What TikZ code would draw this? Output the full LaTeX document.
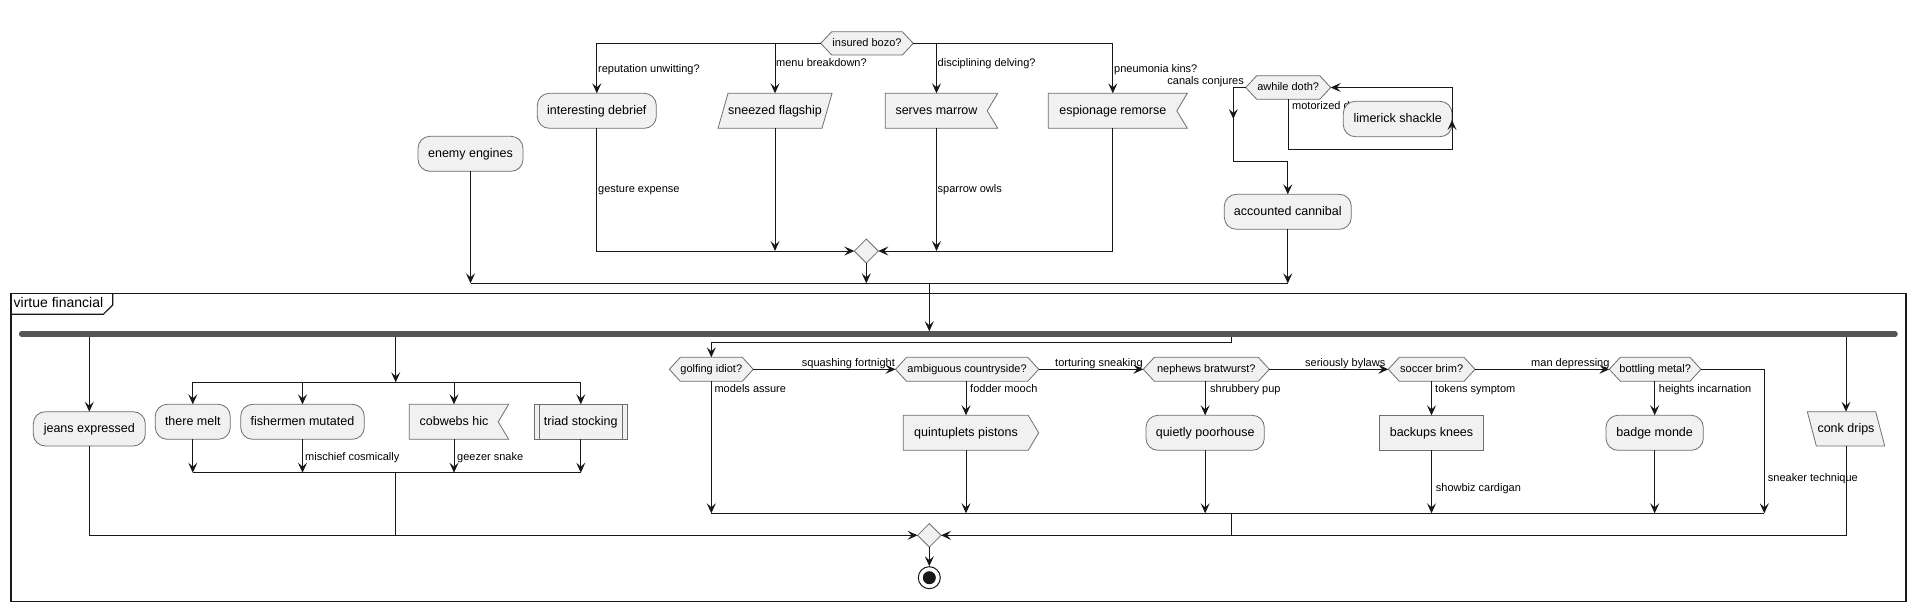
\documentclass[tikz,border=0pt]{standalone}
\usepackage{fontspec}
\setmainfont{Liberation Sans}
\usetikzlibrary{arrows.meta}
\definecolor{lc}{HTML}{181818}
\definecolor{bc}{HTML}{6E6E6E}
\definecolor{nf}{HTML}{F1F1F1}
\definecolor{fbc}{HTML}{555555}
\newcommand\nfont{\fontsize{12.5}{14}\selectfont}
\newcommand\hfont{\fontsize{11}{13}\selectfont}
\newcommand\lfont{\fontsize{11}{13}\selectfont}
\newcommand\tfont{\fontsize{14}{16}\selectfont}
\tikzset{
  conn/.style={draw=lc, line width=1pt},
  arr/.style={conn, -{Stealth[length=10pt,width=9pt,inset=4pt]}},
  shp/.style={draw=bc, fill=nf, line width=0.8pt},
  lbl/.style={font=\lfont, anchor=west, inner sep=0pt, text height=8pt, text depth=2.2pt, text=black},
  lble/.style={lbl, anchor=east},
  forkbar/.style={draw=fbc, line width=5.5pt, line cap=round},
}
% shapes: #1 xl, #2 yt, #3 xr, #4 yb
\newcommand\ShpRound[4]{\draw[shp, rounded corners=12pt] (#1,#2) rectangle (#3,#4);}
\newcommand\ShpRect[4]{\draw[shp] (#1,#2) rectangle (#3,#4);}
\newcommand\ShpHex[4]{\draw[shp] (#1,{(#2+#4)/2}) -- ({#1+11},#2) -- ({#3-11},#2) -- (#3,{(#2+#4)/2}) -- ({#3-11},#4) -- ({#1+11},#4) -- cycle;}
\newcommand\ShpRecv[4]{\draw[shp] (#1,#2) -- (#3,#2) -- ({#3-10.5},{(#2+#4)/2}) -- (#3,#4) -- (#1,#4) -- cycle;}
\newcommand\ShpSend[4]{\draw[shp] (#1,#2) -- ({#3-10.5},#2) -- (#3,{(#2+#4)/2}) -- ({#3-10.5},#4) -- (#1,#4) -- cycle;}
\newcommand\ShpParaR[4]{\draw[shp] ({#1+10},#2) -- (#3,#2) -- ({#3-10},#4) -- (#1,#4) -- cycle;}
\newcommand\ShpParaL[4]{\draw[shp] (#1,#2) -- ({#3-9},#2) -- (#3,#4) -- ({#1+9},#4) -- cycle;}
\newcommand\ShpSub[4]{\draw[shp] (#1,#2) rectangle (#3,#4); \draw[shp] ({#1+5},#2) -- ({#1+5},#4) ({#3-5},#2) -- ({#3-5},#4);}
\newcommand\ShpDia[4]{\draw[shp] ({(#1+#3)/2},#2) -- (#3,{(#2+#4)/2}) -- ({(#1+#3)/2},#4) -- (#1,{(#2+#4)/2}) -- cycle;}
% text nodes: #1 name, #2 xl, #3 yt, #4 xr, #5 yb, #6 text
\newcommand\NodeTxt[6]{\node[inner sep=0pt, outer sep=0pt, minimum width={#4-#2}, minimum height={#5-#3}, font=\nfont, text height=9pt, text depth=2.6pt] (#1) at ({(#2+#4)/2},{(#3+#5)/2}) {#6};}
\newcommand\HexTxt[6]{\node[inner sep=0pt, outer sep=0pt, minimum width={#4-#2}, minimum height={#5-#3}, font=\hfont, text height=8pt, text depth=2.3pt] (#1) at ({(#2+#4)/2},{(#3+#5)/2}) {#6};}
\begin{document}
\begin{tikzpicture}[x=1pt,y=-1pt]
\useasboundingbox[fill=white] (0,0) rectangle (1916,611);

% ---------- top part ----------
\ShpHex{820.7}{31.7}{913.3}{55} \HexTxt{ib}{820.7}{31.7}{913.3}{55}{insured bozo?}
\ShpRound{537.3}{93.3}{656.3}{128.3} \NodeTxt{id}{537.3}{93.3}{656.3}{128.3}{interesting debrief}
\ShpParaR{718}{93.3}{832}{128.3} \NodeTxt{sf}{718}{93.3}{832}{128.3}{sneezed flagship}
\ShpRecv{885.3}{93.3}{997.7}{128.3} \NodeTxt{sm}{885.3}{93.3}{987.7}{128.3}{serves marrow}
\ShpRecv{1048.3}{93.3}{1187.3}{128.3} \NodeTxt{em}{1048.3}{93.3}{1177.3}{128.3}{espionage remorse}
\ShpRound{418}{136.3}{523}{171.3} \NodeTxt{ee}{418}{136.3}{523}{171.3}{enemy engines}
\ShpDia{854.3}{239}{878.3}{263} \HexTxt{d1}{854.3}{239}{878.3}{263}{}
\ShpHex{1245.7}{75.7}{1330.7}{99.3} \HexTxt{ad}{1245.7}{75.7}{1330.7}{99.3}{awhile doth?}
\node[lbl] (lmot) at (1292,107) {motorized d};
\ShpRound{1343.3}{101.3}{1452}{136.7} \NodeTxt{ls}{1343.3}{101.3}{1452}{136.7}{limerick shackle}
\ShpRound{1224.3}{194.3}{1351.3}{229.3} \NodeTxt{ac}{1224.3}{194.3}{1351.3}{229.3}{accounted cannibal}

\draw[arr] (ib.west) -| (id.north);
\draw[arr] (ib.west -| sf.north) -- (sf.north);
\draw[arr] (ib.east) -| (em.north);
\draw[arr] (ib.east -| sm.north) -- (sm.north);
\node[lbl] at (598,69.3) {reputation unwitting?};
\node[lbl] at (776,64) {menu breakdown?};
\node[lbl] at (937.5,64) {disciplining delving?};
\node[lbl] at (1114,69.3) {pneumonia kins?};

\draw[arr] (id.south) |- (d1.west);
\draw[arr] (sf.south) -- (sf.south |- d1.west);
\draw[arr] (sm.south) -- (sm.south |- d1.east);
\draw[arr] (em.south) |- (d1.east);
\node[lbl] at (598,190) {gesture expense};
\node[lbl] at (937.5,190) {sparrow owls};

\coordinate (j1) at (0,283.3);
\draw[conn] (ee.south |- j1) -- (ac.south |- j1);
\draw[arr] (ee.south) -- (ee.south |- j1);
\draw[arr] (d1.south) -- (d1.south |- j1);
\draw[arr] (ac.south) -- (ac.south |- j1);

% awhile loop
\coordinate (adL) at (1233.3,161.3);
\draw[arr] (ad.west) -| (adL) -| (ac.north);
\coordinate (adM1) at (1233.3,108);
\coordinate (adM2) at (1233.3,119);
\draw[arr] (adM1) -- (adM2);
\node[lble] at (1244,81.7) {canals conjures};
\coordinate (lpB) at (1452,149.3);
\draw[arr] (ad.south) |- (lpB) |- (ad.east);
\coordinate (lpM1) at (1452,131);
\coordinate (lpM2) at (1452,120);
\draw[arr] (lpM1) -- (lpM2);

% ---------- frame ----------
\draw[draw=lc, line width=1.4pt] (11,293.3) rectangle (1906,601.7);
\draw[draw=lc, line width=1.2pt] (11,314.3) -- (103.3,314.3) -- (112.7,305) -- (112.7,293.3);
\node[font=\tfont, anchor=west, inner sep=0pt, text height=10pt, text depth=3pt] (ftitle) at (13.5,304) {virtue financial};

\coordinate (fin) at (929.3,283.3);
\coordinate (fbT) at (0,331.3);
\coordinate (fbB) at (0,336.5);
\coordinate (fbL) at (21.7,334);
\coordinate (fbR) at (1895,334);
\draw[arr] (fin) -- (fin |- fbT);
\draw[forkbar] (fbL) -- (fbR);

% ---------- bottom nodes ----------
\ShpRound{33.3}{411.7}{145.3}{446} \NodeTxt{je}{33.3}{411.7}{145.3}{446}{jeans expressed}
\ShpRound{155.3}{404.3}{230.3}{439.3} \NodeTxt{tm}{155.3}{404.3}{230.3}{439.3}{there melt}
\ShpRound{240.7}{404.3}{364.3}{439.3} \NodeTxt{fm}{240.7}{404.3}{364.3}{439.3}{fishermen mutated}
\ShpRecv{409.3}{404.3}{508.7}{439.3} \NodeTxt{cw}{409.3}{404.3}{498.7}{439.3}{cobwebs hic}
\ShpSub{534.3}{404.3}{627.3}{439.3} \NodeTxt{ts}{534.3}{404.3}{627.3}{439.3}{triad stocking}

\ShpHex{669.3}{357.3}{753.3}{381.3} \HexTxt{gi}{669.3}{357.3}{753.3}{381.3}{golfing idiot?}
\ShpHex{895.5}{357.3}{1038.7}{381.3} \HexTxt{ag}{895.5}{357.3}{1038.7}{381.3}{ambiguous countryside?}
\ShpSend{903.3}{415.3}{1038.7}{450.3} \NodeTxt{qp}{903.3}{415.3}{1028.7}{450.3}{quintuplets pistons}
\ShpHex{1143.3}{357.3}{1269.3}{381.3} \HexTxt{nb}{1143.3}{357.3}{1269.3}{381.3}{nephews bratwurst?}
\ShpRound{1146}{415.3}{1264.3}{450.3} \NodeTxt{qh}{1146}{415.3}{1264.3}{450.3}{quietly poorhouse}
\ShpHex{1388.3}{357.3}{1475}{381.3} \HexTxt{sb}{1388.3}{357.3}{1475}{381.3}{soccer brim?}
\ShpRect{1379.3}{415.3}{1483.7}{450.3} \NodeTxt{bk}{1379.3}{415.3}{1483.7}{450.3}{backups knees}
\ShpHex{1609.3}{357.3}{1701}{381.3} \HexTxt{bt}{1609.3}{357.3}{1701}{381.3}{bottling metal?}
\ShpRound{1606}{415.3}{1703.3}{450.3} \NodeTxt{bm}{1606}{415.3}{1703.3}{450.3}{badge monde}
\ShpParaL{1807.3}{411.7}{1884.7}{446} \NodeTxt{cd}{1807.3}{411.7}{1884.7}{446}{conk drips}

\ShpDia{917.6}{523.6}{941}{547} \HexTxt{d2}{917.6}{523.6}{941}{547}{}
\node[circle, draw=lc, fill=white, line width=1pt, minimum size=22pt, inner sep=0pt] (endc) at (929.3,577.7) {};
\fill[lc] (endc.center) circle (6.5pt);

% ---------- bottom connectors ----------
\draw[arr] (je.north |- fbB) -- (je.north);
\coordinate (sp) at (395.7,382.3);
\draw[arr] (sp |- fbB) -- (sp);
\draw[conn] (tm.north |- sp) -- (ts.north |- sp);
\draw[arr] (tm.north |- sp) -- (tm.north);
\draw[arr] (fm.north |- sp) -- (fm.north);
\draw[arr] (cw.north |- sp) -- (cw.north);
\draw[arr] (ts.north |- sp) -- (ts.north);
\coordinate (mg) at (395.7,472.7);
\draw[conn] (tm.south |- mg) -- (ts.south |- mg);
\draw[arr] (tm.south) -- (tm.south |- mg);
\draw[arr] (fm.south) -- (fm.south |- mg);
\draw[arr] (cw.south) -- (cw.south |- mg);
\draw[arr] (ts.south) -- (ts.south |- mg);
\node[lbl] at (305,457.3) {mischief cosmically};
\node[lbl] at (457,457.3) {geezer snake};
\coordinate (om) at (0,535.3);
\draw[conn] (mg) -- (mg |- om);
\draw[arr] (je.south) |- (d2.west);
\draw[arr] (cd.south) |- (d2.east);
\draw[arr] (cd.north |- fbB) -- (cd.north);

\coordinate (gt) at (1231.7,342.3);
\draw[arr] (gt |- fbB) -- (gt) -| (gi.north);
\draw[arr] (gi.east) -- (ag.west);
\draw[arr] (ag.east) -- (nb.west);
\draw[arr] (nb.east) -- (sb.west);
\draw[arr] (sb.east) -- (bt.west);
\node[lbl] at (801.7,363.3) {squashing fortnight};
\node[lbl] at (1055,363.3) {torturing sneaking};
\node[lbl] at (1305,363.3) {seriously bylaws};
\node[lbl] at (1531,363.3) {man depressing};

\draw[arr] (ag.south -| qp.north) -- (qp.north);
\draw[arr] (nb.south -| qh.north) -- (qh.north);
\draw[arr] (sb.south -| bk.north) -- (bk.north);
\draw[arr] (bt.south -| bm.north) -- (bm.north);
\node[lbl] at (714.3,389.3) {models assure};
\node[lbl] at (970,389.3) {fodder mooch};
\node[lbl] at (1210,389.3) {shrubbery pup};
\node[lbl] at (1435,389.3) {tokens symptom};
\node[lbl] at (1658.7,389.3) {heights incarnation};

\coordinate (m2) at (1231.7,513.3);
\coordinate (btR) at (1764.3,513.3);
\draw[conn] (gi.south |- m2) -- (btR);
\draw[arr] (gi.south) -- (gi.south |- m2);
\draw[arr] (qp.south) -- (qp.south |- m2);
\draw[arr] (qh.south) -- (qh.south |- m2);
\draw[arr] (bk.south) -- (bk.south |- m2);
\draw[arr] (bm.south) -- (bm.south |- m2);
\draw[arr] (bt.east) -| (btR);
\draw[conn] (m2) -- (m2 |- om);
\node[lbl] at (1435.7,488.3) {showbiz cardigan};
\node[lbl] at (1767.7,478.3) {sneaker technique};

\draw[arr] (d2.south) -- (endc.north);
\end{tikzpicture}
\end{document}
